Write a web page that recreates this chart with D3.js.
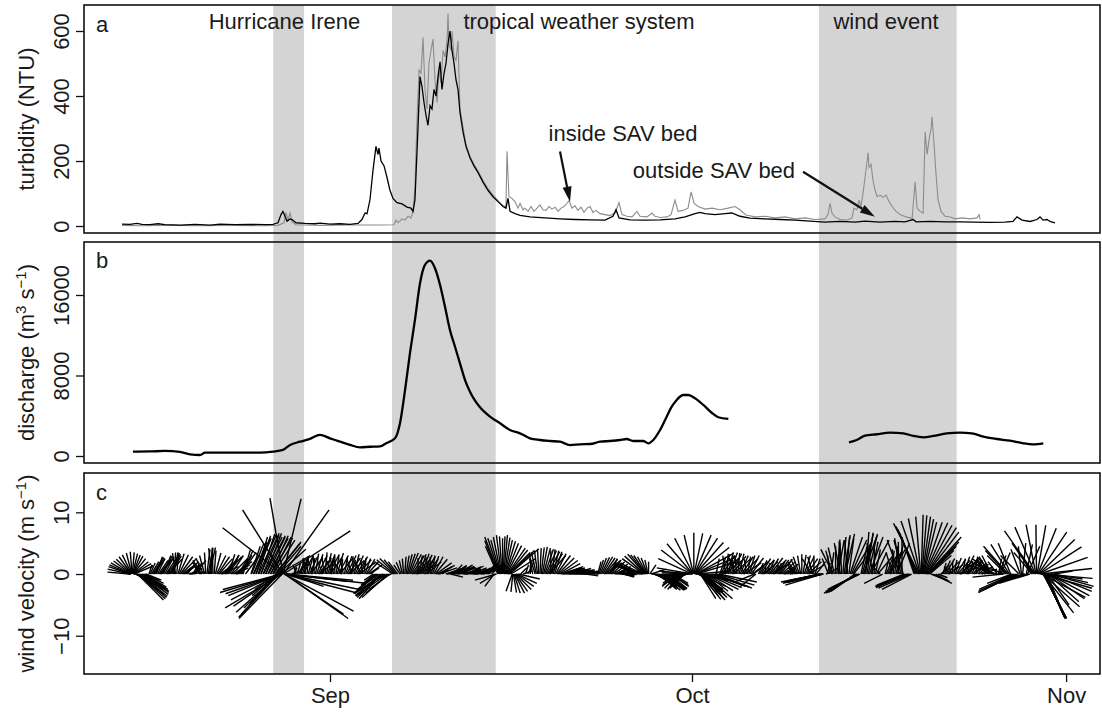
<!DOCTYPE html>
<html><head><meta charset="utf-8">
<script src="https://cdn.jsdelivr.net/npm/d3@7"></script>
<style>
body{margin:0;background:#fff}
svg{display:block}
text{font-family:"Liberation Sans",Arial,Helvetica,sans-serif;fill:#1a1a1a}
</style>
</head><body>
<svg id="chart" width="1102" height="715"></svg>
<script>
// time t = days since 2011-08-01 00:00 UTC (Sep 1 = 31, Oct 1 = 61, Nov 1 = 92)
const monthTicks = [31, 61, 92];
const monthLabels = ["Sep", "Oct", "Nov"];
const events = [[26.3, 28.85], [36.14, 44.73], [71.52, 82.93]];
const eventLabels = ["Hurricane Irene", "tropical weather system", "wind event"];
const eventLabelT = [27.23, 51.63, 77.08];
const turbTicks = [0, 200, 400, 600];
const dischTicks = [0, 8000, 16000];
const windTicks = [-10, 0, 10];

// turbidity, outside SAV bed (black) [t, NTU]
const outsideSAV = [[13.76,6],[14.43,5],[15.0,8],[15.42,5],[16.08,4],[16.75,7],[17.33,4],[18.57,3],[19.81,5],[21.06,3],
[21.88,6],[23.13,4],[24.37,5],[25.61,4],[26.28,5],[26.69,10],[26.94,35],[27.1,45],[27.27,30],[27.44,15],
[27.69,22],[27.85,20],[28.18,10],[28.93,8],[29.76,7],[30.17,9],[31.0,6],[31.83,7],[32.66,5],[33.32,8],
[33.65,20],[33.9,40],[34.07,38],[34.31,80],[34.56,170],[34.81,245],[34.98,220],[35.06,240],[35.23,200],[35.48,185],
[35.72,150],[35.97,110],[36.22,85],[36.55,72],[36.97,68],[37.38,58],[37.71,55],[37.88,45],[38.04,80],[38.29,300],
[38.46,460],[38.62,430],[38.79,380],[38.96,340],[39.12,310],[39.29,370],[39.45,360],[39.62,420],[39.79,400],[39.95,460],
[40.12,505],[40.28,420],[40.45,470],[40.61,500],[40.78,560],[40.94,600],[41.11,540],[41.28,500],[41.44,450],[41.61,420],
[41.77,350],[42.02,290],[42.27,245],[42.6,210],[42.93,185],[43.26,165],[43.68,135],[44.09,110],[44.51,90],[44.92,75],
[45.34,60],[45.58,55],[45.75,85],[45.92,45],[46.33,38],[46.75,33],[47.57,28],[48.82,25],[50.06,22],[51.3,20],
[52.55,19],[53.79,18],[54.45,30],[54.7,50],[54.95,25],[55.86,19],[57.1,18],[58.35,19],[59.59,22],[60.42,28],
[61.25,38],[61.66,42],[62.08,38],[62.91,35],[63.74,38],[64.31,40],[64.98,30],[65.8,24],[67.05,22],[68.29,20],
[69.54,18],[70.78,15],[72.02,12],[73.26,14],[74.51,12],[75.34,15],[76.58,12],[77.82,14],[78.65,13],[79.32,20],
[79.57,13],[80.73,14],[81.98,13],[83.21,13],[84.45,12],[85.69,11],[86.94,12],[87.6,14],[87.93,28],[88.35,18],
[89.01,14],[89.59,20],[89.84,28],[90.09,18],[90.42,20],[90.67,14],[91.08,10]];

// turbidity, inside SAV bed (grey) [t, NTU]
const insideSAV = [[13.76,2],[15.25,1],[17.74,2],[20.23,1],[22.71,2],[25.2,1],[26.69,2],[27.19,10],[27.35,42],[27.52,20],
[27.69,40],[27.85,12],[28.18,4],[30.17,2],[32.66,3],[35.14,3],[36.3,4],[36.47,18],[36.64,10],[36.97,22],
[37.22,18],[37.46,30],[37.71,25],[37.88,45],[38.04,120],[38.21,330],[38.38,480],[38.54,470],[38.71,580],[38.87,420],
[39.04,360],[39.2,500],[39.37,540],[39.54,575],[39.7,450],[39.87,380],[40.04,480],[40.2,440],[40.37,540],[40.53,520],
[40.7,570],[40.78,654],[40.86,560],[41.03,540],[41.11,600],[41.28,520],[41.44,510],[41.61,570],[41.77,360],[42.02,305],
[42.27,250],[42.6,215],[42.93,190],[43.26,170],[43.68,140],[44.09,115],[44.51,95],[44.92,78],[45.34,62],[45.58,60],
[45.67,230],[45.83,90],[46.08,85],[46.33,75],[46.58,55],[46.75,70],[47.0,50],[47.16,55],[47.41,45],[47.66,60],
[47.91,45],[48.16,55],[48.4,65],[48.65,50],[48.9,48],[49.15,60],[49.4,52],[49.65,58],[49.9,45],[50.15,55],
[50.39,60],[50.64,70],[50.81,78],[51.05,55],[51.3,62],[51.55,48],[51.8,58],[52.05,42],[52.3,55],[52.55,60],
[52.79,42],[53.04,48],[53.38,38],[53.79,35],[54.2,32],[54.62,40],[54.95,72],[55.2,35],[55.61,30],[56.03,28],
[56.44,45],[56.69,30],[57.27,28],[57.68,40],[57.93,30],[58.35,26],[58.93,28],[59.26,35],[59.59,80],[59.84,45],
[60.25,48],[60.67,55],[60.92,105],[61.17,70],[61.5,60],[62.08,52],[62.66,55],[63.32,50],[63.99,55],[64.56,60],
[64.98,50],[65.47,34],[66.22,28],[67.05,30],[67.88,25],[68.71,28],[69.54,22],[70.37,25],[71.19,20],[72.02,22],
[72.27,35],[72.44,70],[72.6,40],[72.85,28],[73.26,20],[73.84,18],[74.26,25],[74.42,55],[74.67,50],[74.84,80],
[75.0,60],[75.17,100],[75.34,150],[75.51,200],[75.59,225],[75.67,180],[75.84,190],[76.0,140],[76.17,110],[76.34,90],
[76.58,95],[76.83,88],[77.08,95],[77.33,75],[77.58,60],[77.91,45],[78.24,35],[78.74,28],[79.24,24],[79.49,136],
[79.65,55],[79.9,45],[80.15,40],[80.32,290],[80.48,220],[80.64,265],[80.81,300],[80.89,336],[81.06,250],[81.22,160],
[81.39,80],[81.64,45],[81.97,30],[82.39,28],[82.8,22],[83.38,25],[84.04,22],[84.62,25],[84.79,35],[84.87,20]];

// river discharge [t, m3/s]; null = gap in record
const discharge = [[14.67,430],[16.08,450],[17.33,500],[18.57,400],[19.40,170],[20.23,100],[20.64,330],[22.71,330],[25.20,330],[26.28,430],
[27.10,600],[27.69,1100],[28.51,1420],[29.34,1700],[30.17,2100],[31.00,1760],[31.83,1420],[32.66,1100],[33.49,860],[34.31,920],
[35.14,960],[35.70,1300],[36.39,1760],[36.80,3250],[37.22,6560],[37.63,10240],[38.04,13520],[38.46,17170],[38.87,18990],[39.29,19410],
[39.70,18660],[40.12,17000],[40.53,14840],[40.94,12520],[41.36,10860],[41.77,9210],[42.19,7550],[42.60,6390],[43.02,5500],[43.43,4840],
[44.26,3910],[45.09,3250],[45.92,2580],[46.75,2250],[47.57,1760],[48.40,1590],[49.23,1490],[50.06,1420],[50.89,1090],[51.72,1160],
[52.55,1190],[53.38,1420],[54.20,1490],[55.03,1590],[55.59,1690],[56.13,1490],[56.96,1490],[57.38,1260],[57.79,1590],[58.35,2580],
[58.90,3910],[59.32,4900],[59.73,5570],[60.28,6060],[60.69,6060],[61.25,5740],[61.94,5070],[62.63,4300],[63.18,3850],[64.01,3680],
null,
[74.01,1360],[74.65,1590],[75.34,2020],[76.31,2160],[77.41,2320],[78.51,2250],[79.34,1990],[80.17,1860],[81.00,1990],[82.11,2250],
[83.21,2320],[84.18,2250],[85.14,1920],[86.25,1690],[87.35,1520],[88.45,1260],[89.28,1160],[90.11,1260]];

// wind velocity sticks [t, u (east, m/s), v (north, m/s)]
const windSticks = [
[14.40,-3.6,0.3],[14.44,-3.5,1.2],[14.48,-3.2,1.8],[14.52,-2.4,2.4],[14.56,-1.5,3.1],[14.60,-0.3,3.6],[14.64,0.8,3.3],[14.68,1.6,2.9],[14.72,2.4,2.0],[14.76,3.1,1.3],
[14.85,4.0,-1.0],[14.95,4.3,-2.5],[15.05,4.2,-4.2],[15.15,4.5,-3.8],[15.30,4.5,-3.3],[15.45,4.3,-2.8],[15.60,3.6,-2.1],[15.75,2.5,-1.0],
[16.0,0.5,1.5],[16.2,1.2,2.0],[16.4,1.8,2.5],[16.6,1.0,2.8],[16.8,1.5,2.2],[17.0,2.0,2.6],[17.2,1.2,3.0],[17.4,1.8,2.7],[17.6,2.2,2.4],[17.8,1.6,3.2],
[18.0,0.8,3.5],[18.2,-0.5,3.4],[18.4,1.0,3.3],[18.6,2.0,2.8],[18.8,2.6,2.0],[19.0,1.5,1.2],[19.2,0.5,0.8],[19.4,2.5,0.3],[19.6,1.0,1.5],[19.8,1.8,2.2],
[20.2,-1.0,1.5],[20.4,-1.5,2.2],[20.6,-0.8,3.0],[20.8,0.5,4.0],[21.0,1.0,4.3],[21.2,-0.5,4.2],[21.4,0.3,3.8],[21.6,1.5,3.0],[21.8,2.2,2.5],[22.0,2.8,1.2],
[22.2,1.5,2.0],[22.4,2.5,2.8],[22.6,1.0,3.2],[22.8,2.0,3.0],[23.0,3.0,2.0],[23.2,2.0,1.0],[23.4,1.5,2.5],[23.6,2.5,3.5],[23.8,1.2,4.0],[24.0,2.2,3.0],
[24.5,2.0,5.0],[24.7,2.5,5.5],[24.9,1.8,6.0],[25.1,2.8,6.3],[25.3,2.2,6.5],[25.5,3.0,6.0],[25.7,2.5,6.6],[25.9,3.2,5.8],[26.1,2.8,6.2],[26.3,3.5,5.5],
[26.5,4.0,5.0],[26.7,4.5,4.0],[26.8,5.0,3.0],
[26.55,-3.5,-2.5],[26.6,-4.0,-3.5],[26.64,-4.5,-4.8],[26.68,-5.5,-5.5],[26.72,-6.0,-6.5],[26.76,-6.5,-7.0],[26.8,-7.0,-6.2],[26.84,-7.5,-5.2],[26.88,-8.0,-4.2],[26.92,-8.5,-3.5],
[26.95,-9.0,-3.2],[26.98,-9.5,-2.5],
[27.00,-10.0,-3.0],[27.02,-9.2,-5.5],[27.04,-7.0,-7.2],[27.06,-9.7,7.5],[27.08,-6.5,10.4],[27.10,-2.1,12.3],[27.12,2.9,12.2],[27.14,7.4,10.4],[27.16,10.8,7.0],[27.18,11.2,-1.0],
[27.20,11.5,-3.0],[27.22,11.2,-6.0],[27.24,10.3,-7.2],[27.26,9.5,-6.5],[27.28,13.0,-1.5],[27.3,12.0,-2.5],[27.35,10.0,-1.2],[27.4,6.0,-2.0],[27.6,3.0,-1.0],[27.8,1.5,0.5],
[28.0,0.5,1.0],[28.2,-0.5,1.5],[28.4,1.0,2.0],[28.6,0.5,2.6],[28.8,1.5,2.8],[29.0,-0.5,2.5],[29.2,0.8,3.0],[29.4,1.8,2.5],[29.6,-1.0,2.8],[29.8,0.5,3.3],
[30.0,1.5,3.0],[30.2,2.5,2.2],[30.4,-0.8,2.0],[30.6,0.3,3.5],[30.8,1.2,3.2],[31.0,2.0,2.7],[31.2,-1.2,2.6],[31.4,0.0,3.0],[31.6,1.0,3.4],[31.8,2.2,2.6],
[32.0,-1.5,2.2],[32.2,0.5,2.8],[32.4,1.5,3.0],[32.6,2.4,2.2],[32.8,-0.8,2.5],[33.0,0.8,3.2],[33.2,1.8,2.8],[33.4,2.6,1.8],[33.6,-1.0,2.0],[33.8,0.4,2.6],
[34.0,1.4,2.4],[34.2,2.2,1.5],[34.6,-1.5,-1.0],[34.8,-3.0,-2.5],[35.0,-4.0,-3.2],[35.2,-3.5,-4.0],[35.4,-4.5,-3.5],[35.6,-5.0,-3.0],[35.8,-4.2,-3.8],[36.0,-3.5,-2.5],
[36.2,-3.0,2.0],[36.4,-2.5,2.5],[36.6,-1.5,2.0],[36.8,-1.0,1.5],[37.0,-0.5,2.2],[37.2,0.2,2.8],[37.4,0.8,3.2],[37.6,1.4,3.4],[37.8,2.0,3.0],[38.0,2.6,2.4],
[38.2,3.0,1.5],[38.4,0.5,3.0],[38.6,1.2,3.3],[38.8,1.8,2.8],[39.0,2.4,2.0],[39.2,-0.5,2.5],[39.4,0.6,3.0],[39.6,1.5,2.8],[39.8,2.5,1.8],[40.0,3.0,1.0],
[40.3,1.0,0.6],[40.6,2.5,0.8],[40.8,3.0,1.2],[41.0,2.0,-0.5],[41.2,1.5,1.5],[41.4,2.5,1.3],[41.6,3.0,1.0],[41.8,2.0,1.5],[42.0,2.5,0.7],[42.2,3.0,0.5],
[42.4,1.8,1.0],[42.6,2.2,1.3],[42.8,2.8,0.6],[43.0,2.0,0.3],[43.2,1.5,0.8],[43.4,2.5,1.2],[43.6,3.0,0.8],[43.8,2.5,1.5],[44.0,1.5,1.8],[44.2,1.0,1.2],
[44.4,0.5,0.5],[44.6,-1.5,-2.0],[44.7,-2.5,-1.5],[44.8,-3.5,-1.0],[44.9,-2.0,4.5],[45.0,-2.3,6.0],[45.1,-1.5,5.5],[45.2,-0.8,6.3],[45.3,0.0,5.8],[45.4,0.6,6.3],
[45.5,1.2,5.5],[45.6,2.0,5.0],[45.7,2.9,4.2],[45.8,3.5,3.5],[45.9,4.7,4.1],[46.0,4.0,2.5],[46.1,-1.0,-2.8],[46.2,0.5,-3.0],[46.3,1.6,-3.1],[46.4,2.5,-2.5],
[46.5,3.2,-1.5],[46.6,3.5,-0.8],[46.8,1.0,1.0],[47.0,1.5,0.5],[47.2,0.5,1.5],[47.4,1.0,2.0],[47.6,0.0,1.5],[47.8,-0.5,2.5],[48.0,-1.0,3.2],[48.2,-0.5,3.8],
[48.4,0.2,4.2],[48.6,0.8,4.4],[48.8,1.4,4.0],[49.0,2.0,3.6],[49.2,2.6,3.0],[49.4,0.5,4.0],[49.6,1.2,3.6],[49.8,2.2,3.0],[50.0,3.0,2.2],[50.2,3.5,1.2],
[50.4,2.5,0.8],[50.6,3.0,1.0],[50.8,2.5,0.5],[51.0,3.2,0.9],[51.2,2.8,0.4],[51.4,3.0,0.7],[51.6,2.5,0.3],[51.8,3.0,0.5],[52.0,2.6,0.2],[52.2,2.0,-0.3],
[53.2,0.5,2.0],[53.4,1.0,2.6],[53.6,1.6,2.8],[53.8,2.0,2.4],[54.0,2.4,1.8],[54.2,1.2,2.5],[54.4,2.0,2.0],[54.6,2.6,1.2],[54.8,2.0,0.8],[55.0,2.5,0.4],
[55.2,2.0,-0.3],[55.4,1.5,-0.5],[55.6,2.2,0.3],[55.8,1.8,0.6],[56.0,0.8,0.3],[56.3,-2.0,1.0],[56.5,-3.0,1.5],[56.7,-4.0,1.8],[56.9,-4.4,1.3],[57.0,-3.5,2.5],
[57.1,-2.8,3.2],[57.2,-2.0,3.0],[57.3,-1.0,2.6],[57.4,0.0,2.0],[57.5,1.0,1.5],[57.6,2.5,0.8],[57.8,3.0,-1.0],[58.0,3.5,-2.0],[58.2,3.0,-2.5],[58.4,3.8,-2.6],
[58.6,3.2,-2.2],[58.8,3.5,-2.4],[59.0,2.8,-2.6],[59.2,3.0,-2.0],[59.4,2.5,-1.5],[59.6,-2.0,-1.5],[59.8,-2.5,-2.0],[60.0,-2.0,-2.5],[60.2,-1.5,-2.0],[60.4,-1.0,-1.0],
[60.6,-3.0,-1.0],[60.8,-4.5,0.2],[61.00,-5.7,1.0],[61.05,-5.1,3.9],[61.10,-3.0,5.8],[61.15,0.0,6.7],[61.20,2.7,6.3],[61.25,4.6,5.1],[61.30,6.2,3.4],[61.35,6.8,2.0],
[61.40,5.5,0.5],[61.5,4.5,-2.0],[61.6,3.5,-3.0],[61.7,2.5,-4.0],[61.8,3.8,-4.2],[61.9,3.0,-3.5],[62.0,4.6,-4.0],[62.1,2.0,-3.0],[62.2,3.5,-2.8],[62.3,5.0,-2.5],
[62.6,5.5,-2.0],[62.9,6.0,-2.3],[63.0,0.5,2.5],[63.2,6.2,-1.3],[63.4,1.5,3.2],[63.6,2.5,2.6],[63.8,-0.5,3.0],[64.0,0.8,3.5],[64.2,1.8,3.3],[64.4,2.8,2.4],
[64.6,-1.0,2.6],[64.8,0.3,3.4],[65.0,1.3,3.0],[65.2,2.5,2.5],[65.4,-1.2,2.0],[65.6,0.5,2.8],[65.8,1.5,3.0],[66.0,2.6,2.0],[66.2,-3.0,-1.2],[66.3,-2.5,-2.0],
[66.5,0.8,1.8],[66.7,1.6,2.5],[66.9,2.4,2.0],[67.1,0.0,1.2],[67.3,1.0,2.2],[67.5,2.0,2.6],[67.7,2.8,1.8],[67.9,0.5,1.5],[68.1,1.2,2.0],[68.3,2.0,2.4],
[68.5,2.6,1.6],[68.7,1.5,0.6],[68.9,1.0,0.4],[69.1,2.0,0.3],[69.3,0.5,0.8],[69.5,-1.0,1.0],[69.7,-1.5,2.0],[69.9,-1.0,2.8],[70.1,0.0,3.2],[70.3,1.0,3.0],
[70.5,1.8,2.5],[70.7,2.5,1.5],[70.9,-1.5,2.5],[71.1,0.0,3.0],[71.3,1.5,2.0],[71.5,-3.5,-0.8],[71.6,-5.0,-1.2],[71.7,-6.5,-1.3],[71.8,-6.0,-1.8],[71.9,-5.5,-1.0],
[72.1,2.0,1.0],[72.3,-1.0,2.5],[72.5,0.5,3.5],[72.7,-2.0,4.0],[72.9,0.0,4.5],[73.1,1.0,5.5],[73.3,-1.0,5.0],[73.5,0.5,6.0],[73.7,1.5,6.5],[73.9,-0.5,5.5],
[74.1,2.0,6.0],[74.3,3.0,5.0],[74.5,-3.5,-2.5],[74.6,-4.5,-3.0],[74.7,-5.4,-3.1],[74.8,-5.0,-2.5],[74.9,-4.0,-2.0],[75.0,1.0,4.5],[75.2,2.2,6.2],[75.4,0.5,6.8],
[75.6,1.5,6.5],[75.8,3.0,5.5],[76.0,-1.0,5.0],[76.2,0.8,4.0],[76.4,2.5,3.0],[76.6,-1.5,1.5],[76.8,-3.0,-1.5],[77.0,0.5,2.0],[77.2,1.5,3.0],[77.4,2.5,4.0],
[77.6,-1.0,3.5],[77.8,0.5,4.5],[78.0,2.0,5.0],[78.2,-2.0,5.5],[78.4,0.0,6.0],[78.6,-4.5,-1.8],[78.8,-5.0,-2.2],[79.0,-5.5,-2.0],[79.2,-4.8,-2.5],[79.4,-2.0,6.0],
[79.6,-3.0,7.2],[79.8,-4.1,8.2],[79.9,-1.9,9.0],[80.0,0.3,9.6],[80.1,1.3,9.3],[80.2,2.1,8.4],[80.3,3.7,8.3],[80.4,4.9,7.5],[80.5,5.5,6.0],[80.6,4.5,4.5],
[80.7,3.5,3.0],[80.8,2.5,-1.0],[81.0,3.0,-1.5],[81.2,2.2,-1.2],[81.4,1.5,-0.6],[81.6,1.5,1.0],[81.8,0.5,1.8],[82.0,1.5,2.5],[82.2,2.5,1.5],[82.4,-1.0,1.2],
[82.6,0.0,2.0],[82.8,1.0,2.6],[83.0,2.0,2.2],[83.2,2.8,1.0],[83.4,0.5,2.5],[83.6,1.5,3.0],[83.8,2.5,2.2],[84.0,-0.5,1.8],[84.2,1.0,2.4],[84.4,2.0,1.8],
[84.6,0.0,1.0],[84.8,1.5,1.6],[85.0,2.5,0.8],[85.2,1.0,0.5],[85.4,-1.0,1.5],[85.6,-2.0,2.5],[85.8,-1.5,3.0],[86.0,-3.5,2.5],[86.2,-4.5,1.5],[86.4,0.5,2.5],
[86.6,1.5,3.5],[86.8,-5.0,-0.5],[87.0,-3.0,3.0],[87.2,-4.0,4.5],[87.4,-2.0,5.0],[87.6,-5.5,-2.5],[87.8,-6.0,-3.0],[88.0,-4.5,-2.0],[88.2,-1.5,4.0],[88.4,0.5,5.0],
[88.6,-3.5,-1.0],[88.8,2.0,4.5],[89.0,-5.0,-1.5],[89.2,-3.0,3.5],[89.4,-4.9,7.0],[89.5,-1.6,8.0],[89.6,1.4,7.9],[89.7,4.6,6.8],[89.8,6.8,4.4],[89.9,8.3,0.9],
[90.0,8.1,-2.3],[90.05,6.0,-5.3],[90.1,3.8,-7.2],[90.15,3.6,-7.0],[90.2,3.4,-7.3],[90.25,3.2,-7.0],[90.3,3.0,-6.8],[90.35,2.8,-6.5],[90.4,2.5,-6.0],[90.5,5.0,-4.5],
[90.6,6.5,-3.5],[90.7,7.0,-2.0],[90.8,5.0,-0.8],[91.0,3.0,0.5],
// intermediate observations
[14.42,-3.6,0.8],[14.46,-3.4,1.5],[14.5,-2.8,2.1],[14.54,-2.0,2.8],[14.58,-0.9,3.4],[14.62,0.3,3.5],[14.66,1.2,3.1],[14.7,2.0,2.5],[14.74,2.8,1.7],[14.9,4.2,-1.8],
[15.0,4.3,-3.3],[15.1,4.4,-4.0],[15.22,4.5,-3.6],[15.38,4.4,-3.0],[15.52,4.0,-2.5],[15.68,3.0,-1.5],
[16.1,0.8,1.8],[16.3,1.5,2.3],[16.5,1.4,2.7],[16.7,1.2,2.5],[16.9,1.8,2.4],[17.1,1.6,2.9],[17.3,1.5,2.8],[17.5,2.0,2.6],[17.7,1.9,2.9],[17.9,1.2,3.4],
[18.1,0.2,3.5],[18.3,0.3,3.3],[18.5,1.5,3.1],[18.7,2.3,2.4],[18.9,2.0,1.6],[19.1,1.0,1.0],[19.3,1.5,0.5],[19.5,1.8,0.9],[19.7,1.4,1.9],[19.9,0.5,1.8],
[20.3,-1.3,1.8],[20.5,-1.2,2.6],[20.7,-0.2,3.5],[20.9,0.8,4.2],[21.1,0.3,4.3],[21.3,-0.1,4.0],[21.5,0.9,3.4],[21.7,1.9,2.8],[21.9,2.5,1.8],[22.1,2.0,1.6],
[22.3,2.0,2.4],[22.5,1.8,3.0],[22.7,1.5,3.1],[22.9,2.5,2.5],[23.1,2.5,1.5],[23.3,1.8,1.8],[23.5,2.0,3.0],[23.7,1.8,3.8],
[24.45,1.5,4.5],[24.65,2.2,5.2],[24.85,2.5,5.8],[25.05,2.0,6.2],[25.25,3.0,6.6],[25.45,2.6,6.3],[25.65,3.2,6.2],[25.85,2.8,6.0],[26.05,3.6,5.8],[26.25,3.0,6.0],
[26.45,4.2,5.2],[26.65,3.8,4.5],
[28.1,0.2,1.2],[28.3,0.5,1.8],[28.5,1.2,2.3],[28.7,1.0,2.7],[28.9,0.5,2.6],[29.1,0.2,2.8],[29.3,1.3,2.8],[29.5,0.5,2.6],[29.7,-0.2,3.0],[29.9,1.0,3.2],
[30.1,2.0,2.6],[30.3,1.0,2.1],[30.5,-0.3,2.8],[30.7,0.8,3.4],[30.9,1.6,3.0],[31.1,0.4,2.7],[31.3,-0.6,2.8],[31.5,0.5,3.2],[31.7,1.6,3.0],[31.9,0.3,2.4],
[32.1,-0.5,2.5],[32.3,1.0,2.9],[32.5,2.0,2.6],[32.7,0.8,2.3],[32.9,0.0,2.9],[33.1,1.3,3.0],[33.3,2.2,2.3],[33.5,0.8,1.9],[33.7,-0.3,2.3],[33.9,0.9,2.5],
[34.1,1.8,2.0],[34.3,1.5,1.0],[34.4,0.5,0.5],
[34.7,-2.2,-1.8],[34.9,-3.5,-2.9],[35.1,-3.8,-3.6],[35.3,-4.0,-3.8],[35.5,-4.8,-3.2],[35.7,-4.6,-3.4],[35.9,-3.8,-3.1],[36.1,-3.2,-1.0],[36.3,-2.8,2.3],[36.5,-2.0,2.3],
[36.9,-0.8,1.9],[37.1,-0.2,2.5],[37.3,0.5,3.0],[37.5,1.1,3.3],[37.7,1.7,3.2],[37.9,2.3,2.7],[38.1,2.8,2.0],[38.3,0.0,2.6],[38.5,0.9,3.2],[38.7,1.5,3.1],
[38.9,2.1,2.4],[39.1,0.8,2.2],[39.3,0.0,2.8],[39.5,1.0,2.9],[39.7,2.0,2.4],[39.9,2.8,1.4],[40.1,2.0,1.2],
[40.7,2.8,1.0],[40.9,2.5,0.9],[41.1,1.8,0.6],[41.3,2.0,1.4],[41.5,2.8,1.2],[41.7,2.5,1.2],[41.9,2.2,1.1],[42.1,2.8,0.6],[42.3,2.4,0.8],[42.5,2.0,1.2],
[42.7,2.5,1.0],[42.9,2.4,0.4],[43.1,1.8,0.5],[43.3,2.0,1.0],[43.5,2.8,1.0],[43.7,2.8,1.2],[43.9,2.0,1.7],[44.1,1.2,1.5],
[44.95,-2.2,5.4],[45.05,-1.9,5.8],[45.15,-1.2,6.0],[45.25,-0.4,6.1],[45.35,0.3,6.1],[45.45,0.9,5.9],[45.55,1.6,5.3],[45.65,2.4,4.6],[45.75,3.2,3.9],[45.85,4.1,3.8],
[46.15,-0.3,-2.9],[46.25,1.0,-3.1],[46.35,2.0,-2.8],[46.45,2.8,-2.0],
[48.1,-0.8,3.5],[48.3,-0.2,4.0],[48.5,0.5,4.3],[48.7,1.1,4.2],[48.9,1.7,3.8],[49.1,2.3,3.3],[49.3,0.0,3.8],[49.5,0.9,3.8],[49.7,1.7,3.3],[49.9,2.6,2.6],
[50.1,3.2,1.7],[50.3,3.0,1.0],[50.5,2.8,0.9],[50.7,2.8,0.8],[50.9,2.9,0.7],[51.1,3.0,0.6],[51.3,2.9,0.6],[51.5,2.8,0.5],[51.7,2.8,0.4],[51.9,2.8,0.3],
[52.1,2.3,0.0],
[53.3,0.7,2.3],[53.5,1.3,2.7],[53.7,1.8,2.6],[53.9,2.2,2.1],[54.1,1.8,2.1],[54.3,1.6,2.3],[54.5,2.3,1.6],[54.7,2.3,1.0],[54.9,2.2,0.6],[55.1,2.2,0.0],
[55.3,1.8,-0.4],[55.5,1.8,-0.1],[55.7,2.0,0.5],[55.9,1.3,0.5],
[56.4,-2.5,1.3],[56.6,-3.5,1.7],[56.8,-4.2,1.6],[56.95,-4.0,1.9],[57.05,-3.2,2.9],[57.15,-2.4,3.1],[57.25,-1.5,2.8],[57.35,-0.5,2.3],[57.7,2.8,-0.2],[57.9,3.2,-1.5],
[58.1,3.3,-2.3],[58.3,3.4,-2.6],[58.5,3.5,-2.4],[58.7,3.3,-2.3],[58.9,3.1,-2.5],[59.1,2.9,-2.3],[59.3,2.7,-1.8],[59.7,-2.2,-1.8],[59.9,-2.3,-2.3],[60.1,-1.8,-2.3],
[60.3,-1.2,-1.5],[60.5,-2.0,-1.0],[60.7,-3.8,-0.4],
[60.9,-5.2,0.5],[61.02,-5.5,2.5],[61.07,-4.2,4.9],[61.12,-1.5,6.3],[61.17,1.4,6.6],[61.22,3.7,5.8],[61.27,5.5,4.3],[61.32,6.5,2.7],[61.45,5.0,-1.0],[61.55,4.0,-2.5],
[61.65,3.0,-3.5],[61.75,3.2,-4.1],[61.85,3.4,-3.9],[61.95,3.8,-3.8],[62.05,3.3,-3.5],[62.15,2.8,-2.9],[62.25,4.2,-2.7],[62.45,5.2,-2.2],[62.75,5.8,-2.1],[63.05,6.1,-1.8],
[63.3,1.0,2.8],[63.5,2.0,3.0],[63.7,2.8,2.2],[63.9,0.2,3.3],[64.1,1.3,3.5],[64.3,2.3,2.9],[64.5,-0.3,2.3],[64.7,-0.3,3.0],[64.9,0.8,3.3],[65.1,1.9,2.8],
[65.3,2.8,1.8],[65.5,-0.3,2.4],[65.7,1.0,3.0],[65.9,2.0,2.6],[66.1,1.5,1.2],[66.6,1.2,2.2],[66.8,2.0,2.3],[67.0,1.5,1.4],[67.2,0.5,1.8],[67.4,1.5,2.5],
[67.6,2.4,2.3],[67.8,1.5,1.5],[68.0,0.8,1.8],[68.2,1.6,2.3],[68.4,2.3,2.0],[68.6,2.0,1.0],
[69.6,-1.3,1.5],[69.8,-1.2,2.4],[70.0,-0.5,3.0],[70.2,0.5,3.1],[70.4,1.4,2.8],[70.6,2.2,2.0],[71.0,-0.8,2.8],[71.2,0.8,2.5],[71.65,-5.8,-1.3],[71.75,-6.3,-1.5],
[71.85,-5.8,-1.4],
[72.2,0.5,1.8],[72.4,-0.3,3.0],[72.6,-1.0,3.8],[72.8,-1.0,4.3],[73.0,0.5,5.0],[73.2,0.0,5.3],[73.4,-0.3,5.6],[73.6,1.0,6.3],[73.8,0.5,6.0],[74.0,0.8,5.8],
[74.2,2.5,5.5],[74.4,3.0,4.0],[74.55,-4.0,-2.8],[74.65,-5.0,-3.1],[74.75,-5.2,-2.8],[74.85,-4.5,-2.2],[75.1,1.6,5.5],[75.3,1.4,6.5],[75.5,1.0,6.7],[75.7,2.2,6.0],
[75.9,1.0,5.2],[76.1,0.0,4.5],[76.3,1.6,3.5],
[77.1,1.0,2.5],[77.3,2.0,3.5],[77.5,0.5,3.8],[77.7,-0.2,4.0],[77.9,1.2,4.8],[78.1,0.0,5.2],[78.3,-1.0,5.8],[78.5,-1.5,5.5],[78.7,-4.8,-2.0],[78.9,-5.2,-2.1],
[79.1,-5.2,-2.3],[79.5,-2.5,6.6],[79.7,-3.5,7.7],[79.85,-3.0,8.6],[79.95,-0.8,9.3],[80.05,0.8,9.5],[80.15,1.7,8.9],[80.25,2.9,8.4],[80.35,4.3,7.9],[80.45,5.2,6.8],
[80.55,5.0,5.2],[80.65,4.0,3.8],
[81.7,1.0,1.4],[81.9,1.0,2.2],[82.1,2.0,2.0],[82.3,1.5,1.2],[82.5,-0.5,1.6],[82.7,0.5,2.3],[82.9,1.5,2.4],[83.1,2.4,1.6],[83.3,1.5,1.8],[83.5,1.0,2.8],
[83.7,2.0,2.6],[83.9,1.2,2.0],[84.1,0.3,2.1],[84.3,1.5,2.1],[84.5,1.0,1.4],[84.7,0.8,1.3],[84.9,2.0,1.2],
[85.5,-1.5,2.0],[85.7,-1.8,2.8],[85.9,-2.5,2.8],[86.1,-4.0,2.0],[86.3,-1.5,2.0],[86.5,1.0,3.0],[86.9,-4.0,1.5],[87.1,-3.5,3.8],[87.3,-3.0,4.8],[87.5,-4.0,-1.5],
[87.7,-5.8,-2.8],[87.9,-5.2,-2.5],[88.1,-3.0,3.0],[88.3,-0.5,4.5],[88.5,-2.0,-0.5],[88.7,1.0,4.8],[88.9,-4.5,-1.2],[89.1,-1.5,3.0],[89.3,-3.5,5.0],
[89.45,-3.3,7.6],[89.55,-0.1,8.0],[89.65,3.0,7.4],[89.75,5.8,5.6],[89.85,7.7,2.7],[89.95,8.3,-0.7],[90.02,7.0,-3.8],[90.07,5.0,-6.3],[90.12,3.7,-7.1],[90.17,3.5,-7.2],
[90.22,3.3,-7.1],[90.27,3.1,-6.9],[90.32,2.9,-6.6],[90.45,3.5,-5.0],[90.55,5.8,-4.0],[90.65,6.8,-2.8],[90.75,6.0,-1.4]];

// ---------- drawing ----------
const svg = d3.select("#chart");
const t0 = Date.UTC(2011, 7, 1), DAY = 864e5;
const toDate = t => new Date(t0 + t * DAY);
const L = 84, R = 1100;
const P = {a:[5,233], b:[242,463], c:[473,674]};
const x = d3.scaleUtc().domain([toDate(10.614), toDate(94.81)]).range([L, R]);
const yA = d3.scaleLinear().domain([-21.5, 680]).range([P.a[1], P.a[0]]);
const yB = d3.scaleLinear().domain([-696, 21267]).range([P.b[1], P.b[0]]);
const yC = d3.scaleLinear().domain([-16.2, 16.37]).range([P.c[1], P.c[0]]);
const FS = 22;

// event shading spanning all panels
svg.append("g").selectAll("rect").data(events).join("rect")
  .attr("x", d => x(toDate(d[0]))).attr("width", d => x(toDate(d[1])) - x(toDate(d[0])))
  .attr("y", P.a[0]).attr("height", P.c[1] - P.a[0]).attr("fill", "#d4d4d4");

// panel a: turbidity
const lineA = d3.line().x(d => x(toDate(d[0]))).y(d => yA(d[1]));
svg.append("path").datum(insideSAV).attr("d", lineA).attr("fill","none").attr("stroke","#8c8c8c").attr("stroke-width",1.1);
svg.append("path").datum(outsideSAV).attr("d", lineA).attr("fill","none").attr("stroke","#000").attr("stroke-width",1.3);

// panel b: discharge
const lineB = d3.line().defined(d => d !== null).x(d => x(toDate(d[0]))).y(d => yB(d[1])).curve(d3.curveMonotoneX);
svg.append("path").datum(discharge).attr("d", lineB).attr("fill","none").attr("stroke","#000").attr("stroke-width",2.3).attr("stroke-linejoin","round");

// panel c: wind sticks
const k = yC(0) - yC(1);
svg.append("g").selectAll("line").data(windSticks).join("line")
  .attr("x1", d => x(toDate(d[0]))).attr("y1", yC(0))
  .attr("x2", d => x(toDate(d[0])) + d[1] * k).attr("y2", d => yC(d[2]))
  .attr("stroke", "#000").attr("stroke-width", 1.4);

// frames
Object.values(P).forEach(p => {
  svg.append("rect").attr("x", L).attr("y", p[0]).attr("width", R - L).attr("height", p[1] - p[0])
    .attr("fill","none").attr("stroke","#111").attr("stroke-width",1.6);
});

// y axes with rotated labels
function yAxis(scale, ticks, fmt) {
  const g = svg.append("g").attr("transform", `translate(${L},0)`)
    .call(d3.axisLeft(scale).tickValues(ticks).tickSize(8).tickFormat(fmt));
  g.select(".domain").remove();
  g.selectAll(".tick line").attr("stroke","#111").attr("stroke-width",1.3);
  g.selectAll(".tick text").attr("transform","rotate(-90)").attr("x",0).attr("y",-15).attr("dy",null)
    .style("text-anchor","middle").style("font-size", FS + "px").style("font-family",'"Liberation Sans",Arial,sans-serif').attr("fill","#1a1a1a");
}
yAxis(yA, turbTicks, d3.format("d"));
yAxis(yB, dischTicks, d3.format("d"));
yAxis(yC, windTicks, d => d < 0 ? "\u2212" + Math.abs(d) : String(d));

// x axis (bottom panel only)
const gx = svg.append("g").attr("transform", `translate(0,${P.c[1]})`)
  .call(d3.axisBottom(x).tickValues(monthTicks.map(toDate)).tickSize(8)
    .tickFormat((d, i) => monthLabels[i]));
gx.select(".domain").remove();
gx.selectAll(".tick line").attr("stroke","#111").attr("stroke-width",1.3);
gx.selectAll(".tick text").attr("y", 29).attr("dy", null)
  .style("font-size", FS + "px").style("font-family",'"Liberation Sans",Arial,sans-serif').attr("fill","#1a1a1a");

// axis titles
function yTitle(p, parts) {
  const cy = (p[0] + p[1]) / 2;
  const t = svg.append("text").attr("transform", `translate(33.5,${cy}) rotate(-90)`)
    .attr("text-anchor","middle").style("font-size", FS + "px");
  parts.forEach(([s, sup]) => {
    const ts = t.append("tspan").text(s);
    if (sup) ts.attr("baseline-shift", "super").style("font-size", "15px");
  });
}
yTitle(P.a, [["turbidity (NTU)"]]);
yTitle(P.b, [["discharge (m"], ["3", true], [" s"], ["\u22121", true], [")"]]);
yTitle(P.c, [["wind velocity (m s"], ["\u22121", true], [")"]]);

// panel letters
[["a", 32], ["b", 268], ["c", 500]].forEach(([s, y]) =>
  svg.append("text").attr("x", 96).attr("y", y).text(s).style("font-size", FS + "px"));

// event labels
eventLabels.forEach((s, i) =>
  svg.append("text").attr("x", x(toDate(eventLabelT[i]))).attr("y", 28.5)
    .attr("text-anchor","middle").text(s).style("font-size", FS + "px"));

// annotations with arrows
function arrow(t1, v1, t2, v2) {
  const x1 = x(toDate(t1)), y1 = yA(v1), x2 = x(toDate(t2)), y2 = yA(v2);
  const a = Math.atan2(y2 - y1, x2 - x1), len = 15, hw = 4.5;
  const bx = x2 - len * Math.cos(a), by = y2 - len * Math.sin(a);
  svg.append("line").attr("x1", x1).attr("y1", y1).attr("x2", bx).attr("y2", by)
    .attr("stroke","#111").attr("stroke-width",2.2);
  svg.append("path").attr("d", `M${x2},${y2}L${bx - hw*Math.sin(a)},${by + hw*Math.cos(a)}L${bx + hw*Math.sin(a)},${by - hw*Math.cos(a)}Z`)
    .attr("fill","#111");
}
svg.append("text").attr("x", x(toDate(55.28))).attr("y", yA(261)).attr("text-anchor","middle")
  .text("inside SAV bed").style("font-size", FS + "px");
arrow(50.06, 229, 50.89, 75);
svg.append("text").attr("x", x(toDate(62.82))).attr("y", yA(148)).attr("text-anchor","middle")
  .text("outside SAV bed").style("font-size", FS + "px");
arrow(70.2, 167, 76.16, 28.6);
</script>
</body></html>
